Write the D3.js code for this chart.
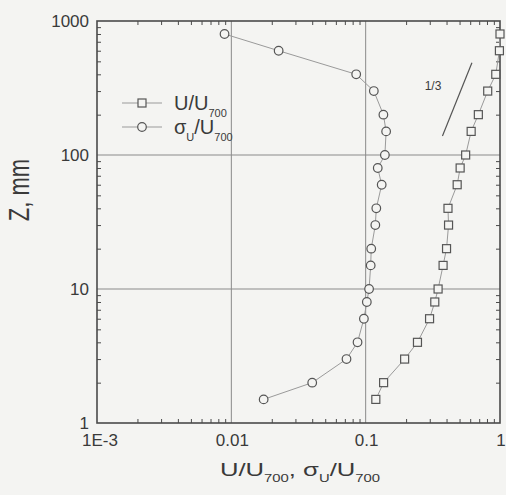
<!DOCTYPE html>
<html>
<head>
<meta charset="utf-8">
<script src="https://cdn.jsdelivr.net/npm/d3@7"></script>
<style>
  html, body { margin: 0; padding: 0; background: #f4f4f2; }
  svg { display: block; }
  text { font-family: "Liberation Sans", Arial, sans-serif; fill: #3a3a3a; }
</style>
</head>
<body>
<svg id="chart" width="506" height="495"></svg>
<script>
// Height above the surface, mm
const heights = [800, 600, 400, 300, 200, 150, 100, 80, 60, 40, 30, 20, 15, 10, 8, 6, 4, 3, 2, 1.5];
// Mean velocity normalised by the velocity at 700 mm
const meanRatio = [1.0, 0.99, 0.93, 0.81, 0.69, 0.61, 0.555, 0.505, 0.48, 0.41, 0.414, 0.40, 0.377, 0.346, 0.327, 0.299, 0.243, 0.195, 0.136, 0.119];
// Streamwise rms fluctuation normalised by the velocity at 700 mm
const rmsRatio = [0.0089, 0.0225, 0.085, 0.115, 0.1355, 0.142, 0.139, 0.123, 0.1316, 0.120, 0.118, 0.110, 0.109, 0.106, 0.102, 0.097, 0.087, 0.072, 0.040, 0.0174];
// Reference slope line (power law 1/3)
const slopeU = [0.373, 0.618];
const slopeZ = [138.6, 488];
const xTickValues = [1e-3, 1e-2, 1e-1, 1];
const xTickLabels = ["1E-3", "0.01", "0.1", "1"];
const yTickValues = [1, 10, 100, 1000];
const yTickLabels = ["1", "10", "100", "1000"];

const svg = d3.select("#chart");
const pLeft = 97, pRight = 500, pTop = 21, pBottom = 423;

const x = d3.scaleLog().domain([1e-3, 1]).range([pLeft, pRight]);
const y = d3.scaleLog().domain([1, 1000]).range([pBottom, pTop]);

const axisColor = "#4a4a4a";
const gridColor = "#8a8a8a";

// Minor tick positions for each decade
function minorTicks(lo, hi) {
  const out = [];
  for (let d = lo; d < hi; d *= 10) {
    for (let k = 2; k <= 9; k++) out.push(d * k);
  }
  return out;
}
const xMinor = minorTicks(1e-3, 1);
const yMinor = minorTicks(1, 1000);

// Grid lines at inner decades
const grid = svg.append("g").attr("stroke", gridColor).attr("stroke-width", 1);
grid.selectAll("line.gx").data([1e-2, 1e-1]).join("line")
  .attr("x1", d => x(d)).attr("x2", d => x(d))
  .attr("y1", pTop).attr("y2", pBottom);
grid.selectAll("line.gy").data([10, 100]).join("line")
  .attr("y1", d => y(d)).attr("y2", d => y(d))
  .attr("x1", pLeft).attr("x2", pRight);

// Axes with inward ticks on all four sides
const tickLen = 4;
svg.append("g").attr("transform", `translate(0,${pBottom})`)
  .call(d3.axisBottom(x).tickValues(xMinor).tickSize(-tickLen).tickFormat(""))
  .call(g => g.select(".domain").remove());
svg.append("g").attr("transform", `translate(0,${pTop})`)
  .call(d3.axisTop(x).tickValues(xMinor).tickSize(-tickLen).tickFormat(""))
  .call(g => g.select(".domain").remove());
svg.append("g").attr("transform", `translate(${pLeft},0)`)
  .call(d3.axisLeft(y).tickValues(yMinor).tickSize(-tickLen).tickFormat(""))
  .call(g => g.select(".domain").remove());
svg.append("g").attr("transform", `translate(${pRight},0)`)
  .call(d3.axisRight(y).tickValues(yMinor).tickSize(-tickLen).tickFormat(""))
  .call(g => g.select(".domain").remove());
svg.selectAll(".tick line").attr("stroke", axisColor).attr("stroke-width", 1);

// Frame
svg.append("rect")
  .attr("x", pLeft).attr("y", pTop)
  .attr("width", pRight - pLeft).attr("height", pBottom - pTop)
  .attr("fill", "none").attr("stroke", axisColor).attr("stroke-width", 1.6);

// Tick labels
svg.append("g").selectAll("text").data(xTickValues).join("text")
  .attr("x", (d, i) => x(d) + (i === 0 ? 3 : 1))
  .attr("y", 440)
  .attr("dy", "0.35em")
  .attr("text-anchor", "middle")
  .attr("font-size", 17)
  .text((d, i) => xTickLabels[i]);
svg.append("g").selectAll("text").data(yTickValues).join("text")
  .attr("x", 89)
  .attr("y", d => y(d))
  .attr("dy", "0.35em")
  .attr("text-anchor", "end")
  .attr("font-size", 17)
  .text((d, i) => yTickLabels[i]);

// Axis titles
const xTitle = svg.append("text")
  .attr("transform", "translate(300,476) scale(1.35,1)")
  .attr("text-anchor", "middle")
  .attr("font-size", 19);
xTitle.append("tspan").text("U/U");
xTitle.append("tspan").attr("font-size", 11).attr("dy", 6).text("700");
xTitle.append("tspan").attr("dy", -6).text(", σ");
xTitle.append("tspan").attr("font-size", 11).attr("dy", 6).text("U");
xTitle.append("tspan").attr("dy", -6).text("/U");
xTitle.append("tspan").attr("font-size", 11).attr("dy", 6).text("700");

svg.append("text")
  .attr("transform", "translate(29,190) rotate(-90) scale(1,1.3)")
  .attr("text-anchor", "middle")
  .attr("font-size", 22)
  .text("Z, mm");

// Series
const lineGen = d3.line().x(d => x(d[0])).y(d => y(d[1]));
const meanPts = heights.map((z, i) => [meanRatio[i], z]);
const rmsPts = heights.map((z, i) => [rmsRatio[i], z]);

const lineColor = "#9a9a9a";
const markColor = "#555";
const bg = "#f4f4f2";

svg.append("path").datum(meanPts).attr("d", lineGen)
  .attr("fill", "none").attr("stroke", lineColor).attr("stroke-width", 1);
svg.append("path").datum(rmsPts).attr("d", lineGen)
  .attr("fill", "none").attr("stroke", lineColor).attr("stroke-width", 1);

const sq = 8;
svg.append("g").selectAll("rect").data(meanPts).join("rect")
  .attr("x", d => x(d[0]) - sq / 2).attr("y", d => y(d[1]) - sq / 2)
  .attr("width", sq).attr("height", sq)
  .attr("fill", bg).attr("stroke", markColor).attr("stroke-width", 1.2);
svg.append("g").selectAll("circle").data(rmsPts).join("circle")
  .attr("cx", d => x(d[0])).attr("cy", d => y(d[1])).attr("r", 4.3)
  .attr("fill", bg).attr("stroke", markColor).attr("stroke-width", 1.2);

// 1/3 slope guide
svg.append("line")
  .attr("x1", x(slopeU[0])).attr("y1", y(slopeZ[0]))
  .attr("x2", x(slopeU[1])).attr("y2", y(slopeZ[1]))
  .attr("stroke", "#555").attr("stroke-width", 1.2);
svg.append("text")
  .attr("x", 433).attr("y", 86).attr("dy", "0.35em")
  .attr("text-anchor", "middle").attr("font-size", 12)
  .text("1/3");

// Legend
const legend = svg.append("g");
const legendRows = [
  { y: 103, shape: "square", main: "U/U", sub: "700" },
  { y: 127, shape: "circle", main: "σ", sub: "U", tail: "/U", sub2: "700" }
];
legendRows.forEach(r => {
  legend.append("line").attr("x1", 122).attr("x2", 162).attr("y1", r.y).attr("y2", r.y)
    .attr("stroke", lineColor).attr("stroke-width", 1);
  if (r.shape === "square") {
    legend.append("rect").attr("x", 142 - sq / 2).attr("y", r.y - sq / 2)
      .attr("width", sq).attr("height", sq)
      .attr("fill", bg).attr("stroke", markColor).attr("stroke-width", 1.2);
  } else {
    legend.append("circle").attr("cx", 142).attr("cy", r.y).attr("r", 4.3)
      .attr("fill", bg).attr("stroke", markColor).attr("stroke-width", 1.2);
  }
  const t = legend.append("text").attr("x", 174).attr("y", r.y).attr("dy", "0.35em")
    .attr("font-size", 20);
  t.append("tspan").text(r.main);
  t.append("tspan").attr("font-size", 11).attr("dy", 7).text(r.sub);
  if (r.tail) {
    t.append("tspan").attr("dy", -7).text(r.tail);
    t.append("tspan").attr("font-size", 11).attr("dy", 7).text(r.sub2);
  }
});
</script>
</body>
</html>
